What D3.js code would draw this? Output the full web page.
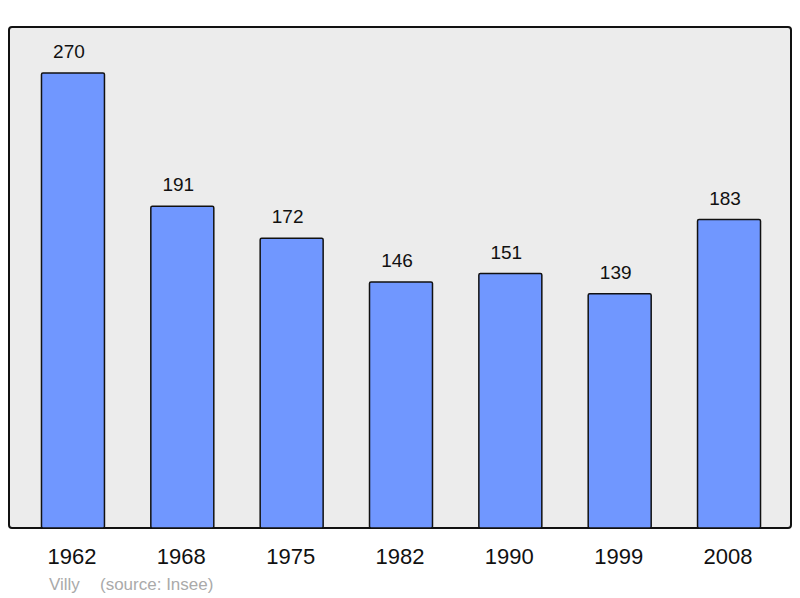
<!DOCTYPE html>
<html>
<head>
<meta charset="utf-8">
<script src="https://cdn.jsdelivr.net/npm/d3@7"></script>
<style>
  body { margin: 0; background: #fff; }
  text { font-family: "Liberation Sans", Arial, sans-serif; }
</style>
</head>
<body>
<div class="chart"></div>
<script>
// population data
var years = ["1962", "1968", "1975", "1982", "1990", "1999", "2008"];
var population = [270, 191, 172, 146, 151, 139, 183];
var town = "Villy";
var source = "(source: Insee)";

var width = 800,
    height = 598;

var svg = d3.select(".chart")
    .append("svg")
    .attr("width", width)
    .attr("height", height);

// frame
svg.append("rect")
    .attr("x", 9)
    .attr("y", 27)
    .attr("width", 782)
    .attr("height", 501)
    .attr("rx", 3)
    .attr("fill", "#ececec")
    .attr("stroke", "#111")
    .attr("stroke-width", 2);

// scales
var x = d3.scaleBand()
    .domain(years)
    .range([18.3, 783.7])
    .paddingInner(0.424)
    .paddingOuter(0.212);

var y = d3.scaleLinear()
    .domain([0, 270])
    .range([528, 73]);

// bars
svg.selectAll(".bar")
    .data(population)
    .enter()
    .append("rect")
    .attr("class", "bar")
    .attr("x", function(d, i) { return x(years[i]); })
    .attr("y", function(d) { return y(d); })
    .attr("width", x.bandwidth())
    .attr("height", function(d) { return y(0) - y(d); })
    .attr("rx", 1.5)
    .attr("fill", "#7097ff")
    .attr("stroke", "#111")
    .attr("stroke-width", 1.5);

// value labels (sit slightly left of bar centre)
svg.selectAll(".value")
    .data(population)
    .enter()
    .append("text")
    .attr("class", "value")
    .attr("x", function(d, i) { return x(years[i]) + x.bandwidth() / 2 - 4; })
    .attr("y", function(d) { return y(d) - 15; })
    .attr("text-anchor", "middle")
    .attr("font-size", 19)
    .attr("fill", "#111")
    .text(function(d) { return d; });

// year axis labels
var axis = d3.axisBottom(x).tickSize(0).tickPadding(0);
var g = svg.append("g")
    .attr("transform", "translate(-1,548)")
    .call(axis);
g.select(".domain").remove();
g.selectAll("text")
    .attr("font-size", 22)
    .attr("fill", "#111")
    .attr("dy", "0.71em")
    .style("font-family", "Liberation Sans, Arial, sans-serif");

// source line
svg.append("text")
    .attr("x", 49)
    .attr("y", 590)
    .attr("font-size", 17)
    .attr("fill", "#aaa")
    .text(town);

svg.append("text")
    .attr("x", 100)
    .attr("y", 590)
    .attr("font-size", 17)
    .attr("fill", "#aaa")
    .text(source);
</script>
</body>
</html>
